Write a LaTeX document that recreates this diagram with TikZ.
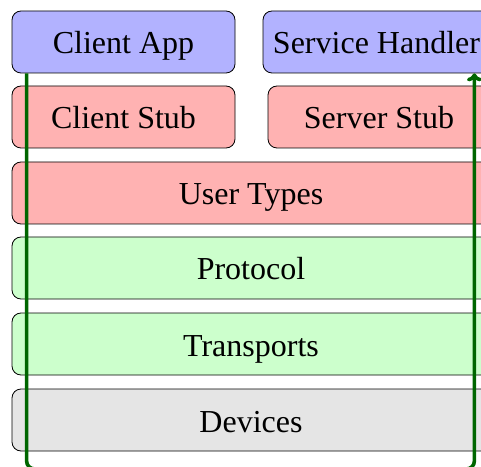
\documentclass[tikz,border=0pt]{standalone}
\usepackage{fontspec}
\setmainfont{Liberation Serif}
\usetikzlibrary{arrows.meta}
\begin{document}
\begin{tikzpicture}[x=1pt,y=1pt,
  layer/.style={draw=black, line width=0.8pt, rounded corners=9pt,
    minimum height=62pt, inner sep=0pt, anchor=center,
    text height=24pt, text depth=0pt,
    font=\fontsize{32}{36}\selectfont},
  app/.style={layer, fill=blue!30},
  stub/.style={layer, fill=red!30},
  proto/.style={layer, fill=green!20},
  dev/.style={layer, fill=black!10},
  flow/.style={draw=green!40!black, line width=3.6pt, rounded corners=8pt,
    -{To[length=8pt,width=15pt]}}]
\useasboundingbox (0,0) rectangle (481,466);
% top row: applications
\node[app, minimum width=223pt] (client) at (123.5,424) {Client App};
\node[app, minimum width=227pt] (handler) at (376.5,424) {Service Handler};
% generated stubs
\node[stub, minimum width=223pt] (cstub) at (123.5,349) {Client Stub};
\node[stub, minimum width=222pt] (sstub) at (379,349) {Server Stub};
% shared layers
\node[stub, minimum width=478pt] (types) at (251,273) {User Types};
\node[proto, minimum width=478pt] (protocol) at (251,198) {Protocol};
\node[proto, minimum width=478pt] (transports) at (251,122) {Transports};
\node[dev, minimum width=478pt] (devices) at (251,46) {Devices};
% call path down the client stack and up the server stack
\draw[flow] ([xshift=15pt]client.south west)
  -- ([xshift=15pt]client.south west |- 0,-3)
  -- ([xshift=-16pt]handler.south east |- 0,-3)
  -- ([xshift=-16pt]handler.south east);
\end{tikzpicture}
\end{document}
